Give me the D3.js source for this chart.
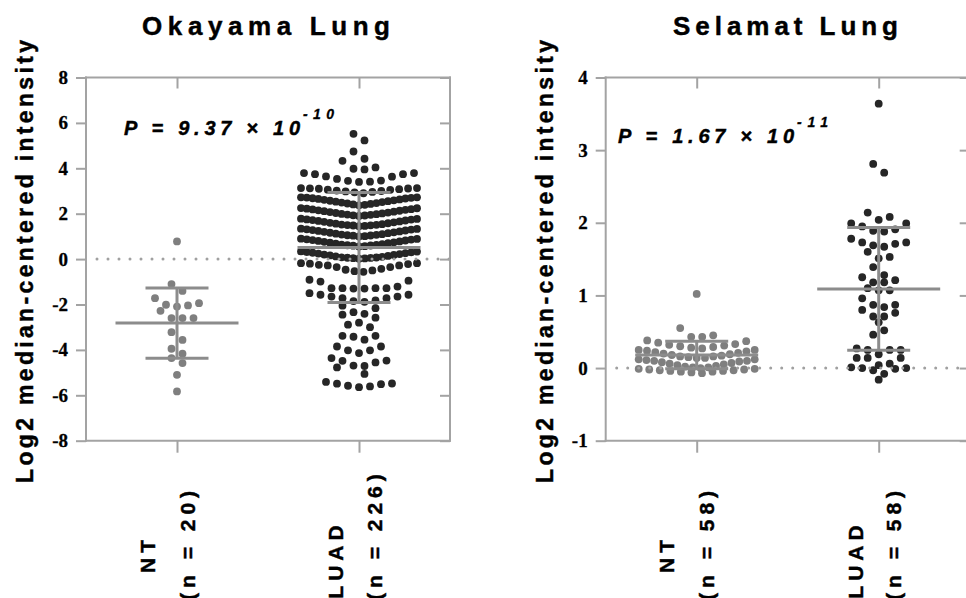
<!DOCTYPE html>
<html>
<head>
<meta charset="utf-8">
<script src="https://cdn.jsdelivr.net/npm/d3@7"></script>
<style>
  body { margin: 0; background: #fff; }
  svg { display: block; }
</style>
</head>
<body>
<svg id="chart" width="966" height="598"></svg>
<script>
'use strict';

// values
var groups = ['NT', 'LUAD'];

var okayamaNT = [0.78, -1.10, -1.40, -1.72, -1.94, -2.01, -2.04, -2.09, -2.28, -2.60, -2.60, -2.60,
  -3.22, -3.56, -3.95, -4.17, -4.36, -4.58, -5.10, -5.83];

var okayamaLUAD = [
  5.52, 5.23, 4.74, 4.42, 4.33, 4.04, 3.98, 3.95,
  3.79, 3.79, 3.74, 3.74, 3.64, 3.63, 3.53, 3.46, 3.45, 3.41, 3.40,
  3.13, 3.13, 3.12, 3.11, 3.10, 3.08, 3.06, 3.05, 3.02, 3.00, 2.98, 2.96, 2.94, 2.90,
  2.72, 2.72, 2.71, 2.70, 2.68, 2.67, 2.65, 2.63, 2.61, 2.59, 2.57, 2.55, 2.53, 2.51, 2.49, 2.47, 2.45, 2.43, 2.41, 2.39, 2.37,
  2.25, 2.24, 2.22, 2.20, 2.19, 2.17, 2.15, 2.13, 2.11, 2.09, 2.07, 2.05, 2.03, 2.01, 1.99, 1.98, 1.96, 1.95, 1.93, 1.92, 1.90,
  1.78, 1.77, 1.75, 1.74, 1.72, 1.70, 1.68, 1.66, 1.64, 1.62, 1.60, 1.58, 1.56, 1.54, 1.52, 1.51, 1.50, 1.49, 1.48, 1.46, 1.45,
  1.34, 1.33, 1.31, 1.30, 1.28, 1.26, 1.24, 1.22, 1.20, 1.18, 1.16, 1.14, 1.12, 1.10, 1.08, 1.07, 1.05, 1.04, 1.03, 1.01, 1.00,
  0.90, 0.89, 0.87, 0.86, 0.84, 0.82, 0.80, 0.78, 0.76, 0.74, 0.72, 0.70, 0.68, 0.66, 0.64, 0.63, 0.61, 0.60, 0.59, 0.57, 0.56,
  0.34, 0.33, 0.31, 0.30, 0.28, 0.26, 0.24, 0.22, 0.20, 0.18, 0.16, 0.14, 0.12, 0.10, 0.08, 0.07, 0.06, 0.05, 0.04, 0.03, 0.02,
  -0.18, -0.18, -0.20, -0.22, -0.25, -0.28, -0.28, -0.35, -0.35, -0.43, -0.47, -0.50, -0.53, -0.56,
  -0.91, -0.95, -0.99, -1.21, -1.28, -1.28, -1.28, -1.28, -1.30, -1.30,
  -1.50, -1.57, -1.57, -1.65, -1.65, -1.72, -1.72, -1.82, -1.85, -1.88,
  -2.05, -2.16, -2.34, -2.41, -2.45, -2.58, -2.80, -2.89, -3.00, -3.38, -3.38, -3.42, -3.55,
  -3.85, -3.85, -4.02, -4.02, -4.14, -4.36, -4.47, -4.48, -4.55, -4.69, -4.71, -4.77, -5.06,
  -5.41, -5.48, -5.49, -5.51, -5.58, -5.61, -5.64];

var selamatNT = [1.02, 0.55, 0.45, 0.43, 0.43,
  0.38, 0.37, 0.35, 0.33, 0.32, 0.31, 0.30, 0.29, 0.28, 0.27,
  0.25, 0.25, 0.24, 0.23, 0.22, 0.21, 0.20, 0.19, 0.18, 0.17, 0.16, 0.16, 0.15, 0.14, 0.14,
  0.12, 0.12, 0.11, 0.10, 0.10, 0.09, 0.08, 0.07, 0.06, 0.05, 0.04, 0.03, 0.02, 0.01, 0.01, 0.00,
  -0.01, -0.01, -0.02, -0.02, -0.03, -0.03, -0.04, -0.04, -0.05, -0.05, -0.06, -0.07];

var selamatLUAD = [3.64, 2.81, 2.69, 2.14, 2.08, 2.04, 1.99, 1.99, 1.95, 1.91, 1.89, 1.88,
  1.78, 1.73, 1.73, 1.71, 1.69, 1.67, 1.60, 1.53, 1.51, 1.39, 1.28, 1.25, 1.21, 1.18, 1.18,
  1.10, 1.07, 1.07, 0.96, 0.87, 0.87, 0.84, 0.80, 0.76, 0.71, 0.71, 0.63, 0.52, 0.46,
  0.27, 0.25, 0.25, 0.25, 0.19, 0.14, 0.14, 0.14, 0.06, 0.04, 0.01, 0.00, 0.00, -0.01, -0.03, -0.08, -0.16];

var okayamaCounts = ['(n = 20)', '(n = 226)'];
var selamatCounts = ['(n = 58)', '(n = 58)'];

// mean and SD bars as drawn in the figure
var okayamaMean = [-2.82, 0.51];
var okayamaSD = [1.55, 2.42];
var selamatMean = [0.18, 1.09];
var selamatSD = [0.19, 0.845];

var okayamaTicks = [-8, -6, -4, -2, 0, 2, 4, 6, 8];
var selamatTicks = [-1, 0, 1, 2, 3, 4];

var okayamaP = ['P = 9.37 × 10', '-10'];
var selamatP = ['P = 1.67 × 10', '-11'];

var yTitle = 'Log2 median-centered intensity';

// layout
var BOX_W = 364, TOP = 77.5, BOTTOM = 440.7,
    R = 3.9, ROW_H = 9, STEP = 11, MAX_W = 116,
    AXIS = '#a3a3a3', BAR = '#8c8c8c', DOT = ['#7f7f7f', '#262626'],
    SANS = '"Liberation Sans", Arial, sans-serif',
    SERIF = '"Liberation Serif", "Times New Roman", serif';

var panels = [
  {title: 'Okayama Lung', x0: 86, domain: [-8, 8], ticks: okayamaTicks,
   values: [okayamaNT, okayamaLUAD], counts: okayamaCounts, mean: okayamaMean, sd: okayamaSD,
   p: okayamaP, titleX: 142, titleLen: 248, pX: 124, pY: 135},
  {title: 'Selamat Lung', x0: 605.7, domain: [-1, 4], ticks: selamatTicks,
   values: [selamatNT, selamatLUAD], counts: selamatCounts, mean: selamatMean, sd: selamatSD,
   p: selamatP, titleX: 673, titleLen: 225, pX: 618, pY: 142.7}
];

var svg = d3.select('#chart');

// Prism style scatter: values binned into rows, lowest value of a row in the centre
function swarm(vals, y, cx) {
  var sorted = vals.slice().sort(d3.descending),
      placed = [], out = [], i = 0,
      slotsAll = d3.range(-10, 11).map(function (k) { return k * STEP / 2; }),
      minD = 2 * 3.6;

  function clear(px, py) {
    return placed.every(function (p) {
      var dx = p.x - px, dy = p.y - py;
      return dx * dx + dy * dy >= minD * minD - 0.01;
    });
  }

  while (i < sorted.length) {
    var top = y(sorted[i]), row = [];
    while (i < sorted.length && y(sorted[i]) - top < ROW_H) row.push(sorted[i++]);
    row.sort(d3.ascending);
    var n = row.length,
        sp = n > 1 ? Math.min(STEP, MAX_W / (n - 1)) : 0,
        loose = n === 1 || sp === STEP,
        slots = d3.range(n).map(function (k) { return (k - (n - 1) / 2) * sp; })
          .sort(function (a, b) { return Math.abs(a) - Math.abs(b) || b - a; });
    row.forEach(function (v, k) {
      var py = y(v), px = slots[k];
      if (loose && !clear(px, py)) {
        var free = slotsAll.slice().sort(function (a, b) {
          return Math.abs(a - px) - Math.abs(b - px) || Math.abs(a) - Math.abs(b);
        }).find(function (c) { return clear(c, py); });
        if (free !== undefined) px = free;
      }
      placed.push({x: px, y: py});
      out.push({value: v, x: cx + px, y: py});
    });
  }
  return out;
}

function styleAxis(sel) {
  sel.select('.domain').attr('stroke', AXIS).attr('stroke-width', 2);
  sel.selectAll('.tick line').attr('stroke', AXIS).attr('stroke-width', 2);
}

// bold sans text, slightly thickened like the original artwork
function label(sel, size) {
  return sel.attr('font-family', SANS).attr('font-weight', 'bold').attr('font-size', size)
    .attr('fill', '#000').attr('stroke', '#000').attr('stroke-width', 0.45);
}

panels.forEach(function (pn) {
  var x1 = pn.x0 + BOX_W,
      x = d3.scalePoint().domain(groups).range([pn.x0, x1]).padding(0.5),
      y = d3.scaleLinear().domain(pn.domain).range([BOTTOM, TOP]),
      g = svg.append('g');

  // dots
  groups.forEach(function (grp, gi) {
    g.append('g').selectAll('circle')
      .data(swarm(pn.values[gi], y, x(grp)))
      .enter().append('circle')
      .attr('cx', function (d) { return d.x; })
      .attr('cy', function (d) { return d.y; })
      .attr('r', R)
      .attr('fill', DOT[gi]);
  });

  // zero reference line
  g.append('line')
    .attr('x1', pn.x0 + 11).attr('x2', x1)
    .attr('y1', y(0)).attr('y2', y(0))
    .attr('stroke', '#a0a0a0').attr('stroke-width', 3)
    .attr('stroke-linecap', 'round').attr('stroke-dasharray', '0,11');

  // mean +/- SD
  groups.forEach(function (grp, gi) {
    var cx = x(grp), m = pn.mean[gi], s = pn.sd[gi], bars = g.append('g')
      .attr('stroke', BAR).attr('stroke-width', 3);
    bars.append('line').attr('x1', cx).attr('x2', cx).attr('y1', y(m + s)).attr('y2', y(m - s));
    bars.append('line').attr('x1', cx - 61.5).attr('x2', cx + 61.5).attr('y1', y(m)).attr('y2', y(m));
    [m + s, m - s].forEach(function (v) {
      bars.append('line').attr('x1', cx - 31.5).attr('x2', cx + 31.5).attr('y1', y(v)).attr('y2', y(v));
    });
  });

  // frame axes
  var left = g.append('g').attr('transform', 'translate(' + pn.x0 + ',0)')
    .call(d3.axisLeft(y).tickValues(pn.ticks).tickSize(10).tickSizeOuter(0).tickPadding(8).tickFormat(String))
    .attr('font-family', SERIF).attr('font-size', 19).attr('font-weight', 'bold');
  styleAxis(left);
  left.selectAll('.tick text').attr('fill', '#000').attr('stroke', '#000').attr('stroke-width', 0.3);

  var right = g.append('g').attr('transform', 'translate(' + x1 + ',0)')
    .call(d3.axisLeft(y).tickValues(pn.ticks).tickSize(10).tickSizeOuter(0).tickFormat(''));
  styleAxis(right);

  var topAx = g.append('g').attr('transform', 'translate(0,' + TOP + ')')
    .call(d3.axisBottom(x).tickSize(11).tickSizeOuter(0).tickFormat(''));
  styleAxis(topAx);

  var bottomAx = g.append('g').attr('transform', 'translate(0,' + BOTTOM + ')')
    .call(d3.axisBottom(x).tickSize(12).tickSizeOuter(0).tickFormat(''));
  styleAxis(bottomAx);
  [topAx, bottomAx].forEach(function (a) {
    a.select('.domain').attr('d', 'M' + (pn.x0 - 1) + ',0H' + (x1 + 1));
  });
  [left, right].forEach(function (a) {
    a.select('.domain').attr('d', 'M0,' + (TOP - 1) + 'V' + (BOTTOM + 1));
  });

  // title
  label(g.append('text'), 26)
    .attr('x', pn.titleX).attr('y', 35)
    .attr('textLength', pn.titleLen).attr('lengthAdjust', 'spacing')
    .text(pn.title);

  // P value
  label(g.append('text'), 20)
    .attr('x', pn.pX).attr('y', pn.pY)
    .attr('textLength', 176).attr('lengthAdjust', 'spacing')
    .attr('font-style', 'italic')
    .text(pn.p[0]);
  label(g.append('text'), 14)
    .attr('x', pn.pX + 179).attr('y', pn.pY - 16)
    .attr('textLength', 31).attr('lengthAdjust', 'spacing')
    .attr('stroke-width', 0.3)
    .attr('font-style', 'italic')
    .text(pn.p[1]);

  // y title
  label(g.append('text'), 23)
    .attr('transform', 'translate(' + (pn.x0 - 53) + ',261.5) rotate(-90)')
    .attr('text-anchor', 'middle')
    .attr('textLength', 443).attr('lengthAdjust', 'spacing')
    .text(yTitle);

  // category labels
  var nameShift = [-22.5, -16], countShift = [17.5, 22.5], nameMid = [554, 559.5];
  groups.forEach(function (grp, gi) {
    var cx = x(grp);
    label(g.append('text'), 21)
      .attr('transform', 'translate(' + (cx + nameShift[gi]) + ',' + nameMid[gi] + ') rotate(-90)')
      .attr('text-anchor', 'middle')
      .attr('letter-spacing', 5)
      .text(grp);
    label(g.append('text'), 21)
      .attr('transform', 'translate(' + (cx + countShift[gi]) + ',600) rotate(-90)')
      .attr('text-anchor', 'start')
      .attr('letter-spacing', 5)
      .text(pn.counts[gi]);
  });
});
</script>
</body>
</html>
